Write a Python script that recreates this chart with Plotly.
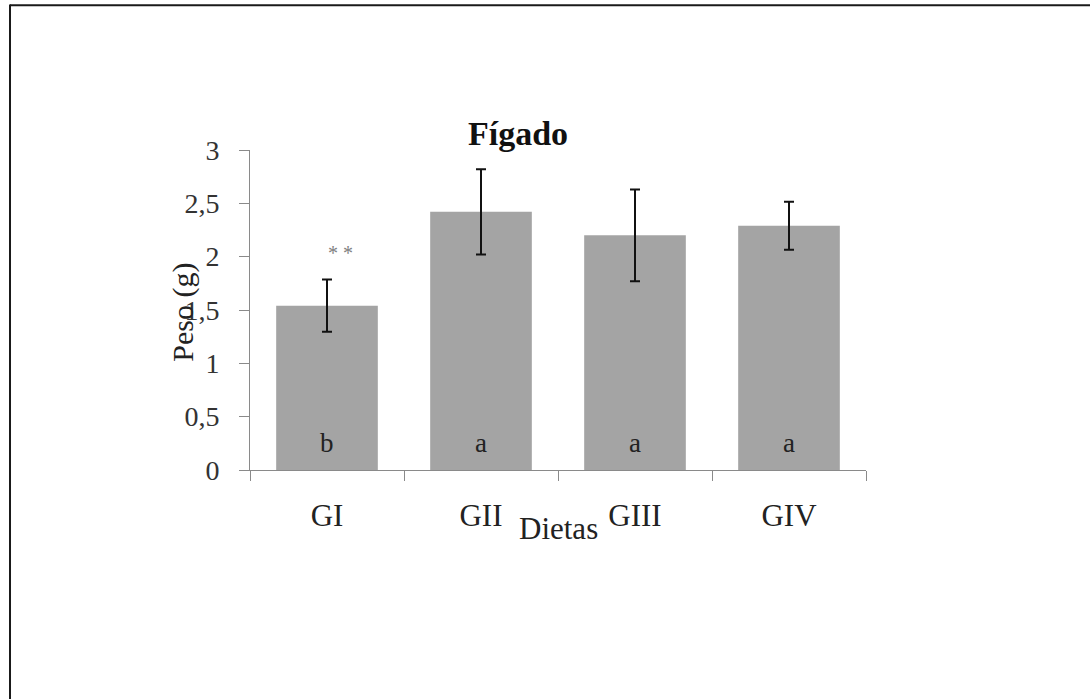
import plotly.graph_objects as go

categories = ["GI", "GII", "GIII", "GIV"]
means = [1.54, 2.42, 2.20, 2.29]
errors = [0.245, 0.40, 0.43, 0.225]
letters = ["b", "a", "a", "a"]
y_ticks = [0, 0.5, 1, 1.5, 2, 2.5, 3]
y_tick_text = ["0", "0,5", "1", "1,5", "2", "2,5", "3"]

SERIF = "Liberation Serif, Times New Roman, serif"

fig = go.Figure()
fig.add_trace(go.Bar(
    x=categories, y=means,
    marker=dict(color="#a4a4a4", line=dict(width=0)),
    error_y=dict(type="data", array=errors, visible=True,
                 color="#111111", thickness=2, width=5),
    showlegend=False,
))

annotations = []
for c, l in zip(categories, letters):
    annotations.append(dict(x=c, y=0.25, xref="x", yref="y", text=l,
                            xanchor="center", yanchor="middle",
                            showarrow=False, font=dict(family=SERIF, size=27, color="#222222")))
annotations.append(dict(x=categories[0], y=2.03, xref="x", yref="y", text="* *", xshift=13,
                        xanchor="center", yanchor="middle",
                        showarrow=False, font=dict(family=SERIF, size=20, color="#808080")))
annotations.append(dict(x=0.435, y=1.053, xref="paper", yref="paper", text="<b>Fígado</b>",
                        xanchor="center", yanchor="middle",
                        showarrow=False, font=dict(family=SERIF, size=34, color="#111111")))
annotations.append(dict(x=-0.109, y=0.494, xref="paper", yref="paper", text="Peso (g)",
                        xanchor="center", yanchor="middle",
                        textangle=-90, showarrow=False,
                        font=dict(family=SERIF, size=30, color="#222222")))
annotations.append(dict(x=0.5, y=-0.184, xref="paper", yref="paper", text="Dietas",
                        xanchor="center", yanchor="middle",
                        showarrow=False, font=dict(family=SERIF, size=31, color="#222222")))

shapes = [
    dict(type="line", xref="paper", yref="paper", x0=-0.3896, x1=1.4, y0=1.452, y1=1.452,
         line=dict(color="#1a1a1a", width=2)),
    dict(type="line", xref="paper", yref="paper", x0=-0.3896, x1=-0.3896, y0=1.455, y1=-0.8,
         line=dict(color="#1a1a1a", width=2)),
]

fig.update_layout(
    width=1090, height=699,
    margin=dict(l=250, r=224, t=150, b=229),
    paper_bgcolor="white", plot_bgcolor="white",
    bargap=0.34,
    annotations=annotations,
    shapes=shapes,
    font=dict(family=SERIF, color="#222222"),
)
fig.update_xaxes(
    showline=True, linecolor="#8a8a8a", linewidth=1,
    ticks="outside", ticklen=10, tickcolor="#8a8a8a", tickson="boundaries",
    tickfont=dict(family=SERIF, size=31, color="#222222"),
    ticklabelstandoff=18,
    showgrid=False, zeroline=False,
)
fig.update_yaxes(
    range=[0, 3], tickvals=y_ticks, ticktext=y_tick_text,
    showline=True, linecolor="#8a8a8a", linewidth=1,
    ticks="outside", ticklen=10, tickcolor="#8a8a8a",
    tickfont=dict(family=SERIF, size=28, color="#333333"),
    ticklabelstandoff=14,
    showgrid=False, zeroline=False,
)

fig.write_html("out.html")
